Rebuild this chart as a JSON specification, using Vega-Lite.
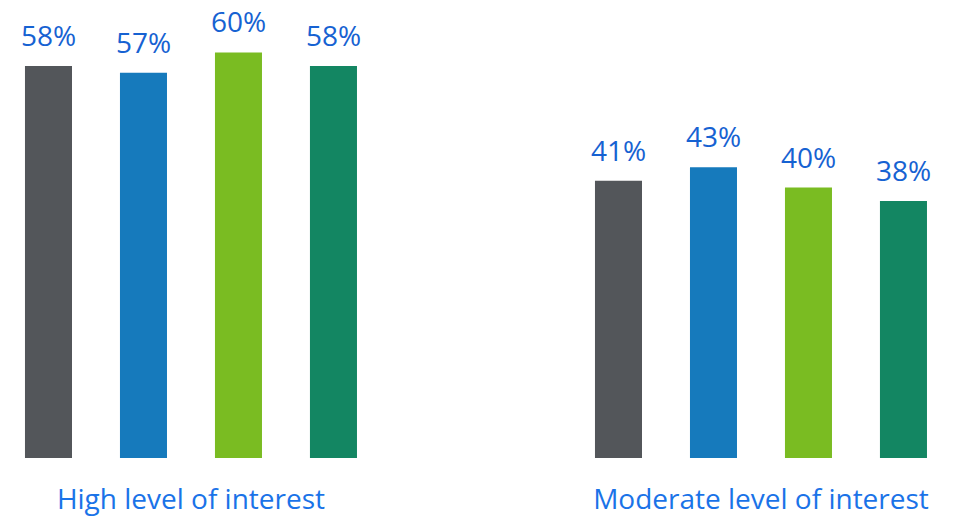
{
  "$schema": "https://vega.github.io/schema/vega-lite/v6.json",
  "width": 958,
  "height": 458,
  "autosize": "none",
  "padding": {"top": 0, "left": 0, "right": 0, "bottom": 58},
  "background": "white",
  "config": {"view": {"stroke": null}},
  "data": {
    "values": [
      {"group": "High level of interest", "series": "Series 1", "value": 0.58},
      {"group": "High level of interest", "series": "Series 2", "value": 0.57},
      {"group": "High level of interest", "series": "Series 3", "value": 0.60},
      {"group": "High level of interest", "series": "Series 4", "value": 0.58},
      {"group": "Moderate level of interest", "series": "Series 1", "value": 0.41},
      {"group": "Moderate level of interest", "series": "Series 2", "value": 0.43},
      {"group": "Moderate level of interest", "series": "Series 3", "value": 0.40},
      {"group": "Moderate level of interest", "series": "Series 4", "value": 0.38}
    ]
  },
  "encoding": {
    "x": {
      "field": "group",
      "type": "nominal",
      "sort": null,
      "scale": {"paddingInner": 0.41754, "paddingOuter": 0.04912, "align": 0.446},
      "axis": {
        "title": null,
        "domain": false,
        "ticks": false,
        "tickSize": 0,
        "labelAngle": 0,
        "labelFont": "Open Sans",
        "labelFontSize": 28,
        "labelColor": "#1A73E8",
        "labelBaseline": "alphabetic",
        "labelPadding": 50,
        "labelLimit": 0
      }
    },
    "xOffset": {
      "field": "series",
      "type": "nominal",
      "sort": null,
      "scale": {"paddingInner": 0.505, "paddingOuter": 0}
    },
    "y": {
      "field": "value",
      "type": "quantitative",
      "scale": {"domain": [0, 0.6775], "nice": false, "zero": true},
      "axis": null
    }
  },
  "layer": [
    {
      "mark": {"type": "bar"},
      "encoding": {
        "color": {
          "field": "series",
          "type": "nominal",
          "sort": null,
          "scale": {"domain": ["Series 1", "Series 2", "Series 3", "Series 4"], "range": ["#53565A", "#167ABC", "#7ABC22", "#138662"]},
          "legend": null
        }
      }
    },
    {
      "mark": {"type": "text", "font": "Open Sans", "fontSize": 28, "color": "#1662D2", "baseline": "alphabetic", "align": "center", "dy": -20},
      "encoding": {
        "text": {"field": "value", "type": "quantitative", "format": ".0%"}
      }
    }
  ]
}
